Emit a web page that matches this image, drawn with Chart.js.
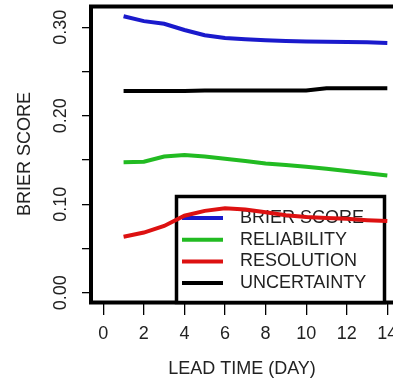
<!DOCTYPE html>
<html><head><meta charset="utf-8">
<script src="https://cdn.jsdelivr.net/npm/chart.js@4.4.0/dist/chart.umd.min.js"></script>
<style>html,body{margin:0;padding:0;background:#fff;overflow:hidden}canvas{display:block}</style>
</head><body>
<canvas id="c" width="393" height="380"></canvas>
<script>
const leadDays = [1,2,3,4,5,6,7,8,9,10,11,12,13,14];
const brierScore  = [0.3125,0.307,0.304,0.297,0.291,0.288,0.2865,0.2855,0.2845,0.284,0.2838,0.2835,0.283,0.2822];
const reliability = [0.1474,0.148,0.154,0.1558,0.154,0.1515,0.149,0.146,0.1445,0.1425,0.140,0.1375,0.135,0.1325];
const resolution  = [0.0633,0.068,0.0755,0.087,0.0925,0.0955,0.094,0.091,0.0875,0.0855,0.0845,0.0835,0.082,0.081];
const uncertainty = [0.228,0.228,0.228,0.228,0.2285,0.2285,0.2285,0.2285,0.2285,0.2285,0.231,0.231,0.231,0.231];
const seriesNames = ['BRIER SCORE','RELIABILITY','RESOLUTION','UNCERTAINTY'];
const seriesColors = ['#1a1acc','#22bb22','#dd1111','#000000'];
const xTickValues = [0,2,4,6,8,10,12,14];
const yTickValues = [0,0.05,0.10,0.15,0.20,0.25,0.30];
const yTickLabels = ['0.00','','0.10','','0.20','','0.30'];
const xTitle = 'LEAD TIME (DAY)';
const yTitle = 'BRIER SCORE';

const FONT = '"Liberation Sans", Arial, Helvetica, sans-serif';
const TXT = '#222';
Chart.defaults.font.family = FONT;

const seriesData = [brierScore, reliability, resolution, uncertainty];

const framePlugin = {
  id: 'frameLegend',
  beforeDatasetsDraw(chart) {
    const {ctx, chartArea: a} = chart;
    ctx.save();
    // plot frame
    ctx.strokeStyle = '#000';
    ctx.lineWidth = 4;
    ctx.strokeRect(a.left, a.top + 0.5, a.right + 20 - a.left, a.bottom - a.top);
    // legend box
    const lx = 176.5, ly = 196.5, lw = 208, lh = a.bottom - ly + 0.5;
    ctx.fillStyle = '#fff';
    ctx.fillRect(lx, ly, lw, lh);
    ctx.lineWidth = 3.5;
    ctx.strokeRect(lx, ly, lw, lh);
    ctx.font = '18px ' + FONT;
    ctx.textBaseline = 'middle';
    ctx.textAlign = 'left';
    chart.data.datasets.forEach((ds, i) => {
      const y = 218 + i * 21.7;
      ctx.strokeStyle = ds.borderColor;
      ctx.lineWidth = 4;
      ctx.beginPath();
      ctx.moveTo(182, y);
      ctx.lineTo(223, y);
      ctx.stroke();
      ctx.fillStyle = TXT;
      ctx.fillText(ds.label, 240, y);
    });
    ctx.restore();
  }
};

new Chart(document.getElementById('c'), {
  type: 'line',
  data: {
    labels: leadDays,
    datasets: seriesNames.map((n, i) => ({
      label: n,
      data: leadDays.map((d, j) => ({x: d, y: seriesData[i][j]})),
      borderColor: seriesColors[i],
      backgroundColor: seriesColors[i],
      borderWidth: 4,
      pointRadius: 0,
      tension: 0,
      fill: false
    }))
  },
  options: {
    responsive: false,
    animation: false,
    devicePixelRatio: 1,
    layout: {padding: {top: 6, left: 0, right: 0, bottom: 0}},
    plugins: {legend: {display: false}, tooltip: {enabled: false}},
    scales: {
      x: {
        type: 'linear',
        min: -0.606, max: 14.28,
        afterBuildTicks: s => { s.ticks = xTickValues.map(v => ({value: v})); },
        afterFit: s => { s.height = 78; s.paddingLeft = 0; s.paddingRight = 0; },
        grid: {drawOnChartArea: false, drawTicks: true, tickLength: 13, color: '#000', lineWidth: 1.3},
        border: {display: false},
        ticks: {color: TXT, font: {size: 18}, padding: 8, maxRotation: 0, minRotation: 0, autoSkip: false,
          callback: v => String(v)},
        title: {display: true, text: xTitle, color: TXT, font: {size: 18}, padding: {top: 0, bottom: 0}}
      },
      y: {
        type: 'linear',
        min: -0.0105, max: 0.3241,
        afterBuildTicks: s => { s.ticks = yTickValues.map(v => ({value: v})); },
        afterFit: s => { s.width = 91; s.paddingTop = 0; s.paddingBottom = 0; },
        grid: {drawOnChartArea: false, drawTicks: true, tickLength: 9, color: '#000', lineWidth: 1.3},
        border: {display: false},
        ticks: {color: TXT, font: {size: 18}, padding: 3, minRotation: 90, maxRotation: 90, crossAlign: 'center', autoSkip: false,
          callback: (v) => { const k = yTickValues.findIndex(t => Math.abs(t - v) < 1e-9); return k >= 0 ? yTickLabels[k] : ''; }},
        title: {display: true, text: yTitle, color: TXT, font: {size: 18}, padding: {top: 14.7, bottom: 0}}
      }
    }
  },
  plugins: [framePlugin]
});
</script>
</body></html>
